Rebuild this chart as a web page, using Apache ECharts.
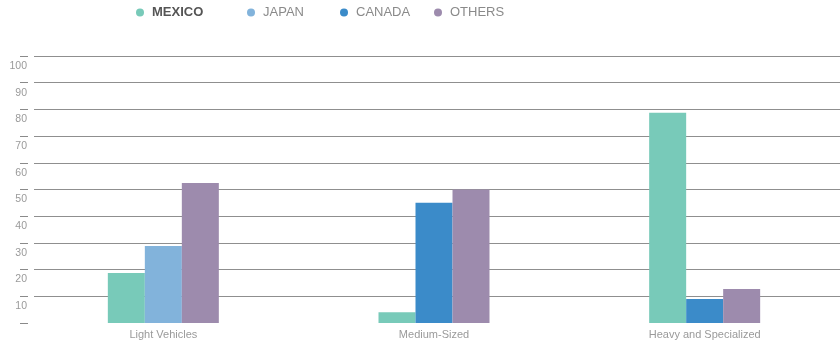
<!DOCTYPE html>
<html>
<head>
<meta charset="utf-8">
<script src="https://cdn.jsdelivr.net/npm/echarts@6/dist/echarts.min.js"></script>
<style>
  html, body { margin: 0; padding: 0; background: #fff; }
  #chart { width: 840px; height: 345px; }
</style>
</head>
<body>
<div id="chart"></div>
<script>
// Vehicle segments and the share held by each origin (%)
const categories = ['Light Vehicles', 'Medium-Sized', 'Heavy and Specialized'];
const mexico = [18.7, 4, 78.7];
const japan  = [28.8, null, null];
const canada = [null, 45, 9];
const others = [52.4, 50, 12.7];
const yTicks = [0, 10, 20, 30, 40, 50, 60, 70, 80, 90, 100];

const colors = {
  MEXICO: '#78cab9',
  JAPAN:  '#82b3db',
  CANADA: '#3b8bc9',
  OTHERS: '#9d8bad'
};

const FONT = '"Liberation Sans", Arial, sans-serif';
const GRID_TOP = 56;
const GRID_BOTTOM = 22;

function legendItem(name, left, bold) {
  return {
    data: [name],
    left: left,
    top: 6,
    padding: 0,
    icon: 'circle',
    itemWidth: 8,
    itemHeight: 8,
    selectedMode: false,
    textStyle: {
      fontFamily: FONT,
      fontSize: 13,
      color: bold ? '#555' : '#8a8a8a',
      fontWeight: bold ? 'bold' : 'normal',
      padding: [0, 0, 0, 3]
    }
  };
}

function barSeries(name, data, stack) {
  const s = {
    name: name,
    type: 'bar',
    xAxisIndex: 0,
    yAxisIndex: 0,
    data: data,
    barWidth: 37,
    barGap: '0%',
    itemStyle: { color: colors[name] },
    z: 3
  };
  if (stack) s.stack = stack;
  return s;
}

const option = {
  animation: false,
  backgroundColor: '#fff',
  legend: [
    legendItem('MEXICO', 136, true),
    legendItem('JAPAN', 247, false),
    legendItem('CANADA', 340, false),
    legendItem('OTHERS', 434, false)
  ],
  grid: [
    // plotting area for the bars, ticks and labels
    { left: 28, width: 815, top: GRID_TOP, bottom: GRID_BOTTOM },
    // horizontal rules start a little right of the tick marks
    { left: 34, right: 0, top: GRID_TOP, bottom: GRID_BOTTOM }
  ],
  xAxis: [
    {
      gridIndex: 0,
      type: 'category',
      data: categories,
      axisLine: { show: false },
      axisTick: { show: false },
      axisLabel: {
        fontFamily: FONT,
        fontSize: 11,
        color: '#9a9a9a',
        margin: 6
      }
    },
    {
      gridIndex: 1,
      type: 'value',
      show: false
    }
  ],
  yAxis: [
    {
      gridIndex: 0,
      type: 'value',
      min: yTicks[0],
      max: yTicks[yTicks.length - 1],
      interval: 10,
      axisLine: { show: false },
      axisTick: {
        show: true,
        inside: false,
        length: 8,
        lineStyle: { color: '#8a8a8a', width: 1 }
      },
      splitLine: { show: false },
      axisLabel: {
        fontFamily: FONT,
        fontSize: 10.5,
        color: '#9a9a9a',
        margin: 1,
        verticalAlign: 'top',
        lineHeight: 12,
        padding: [4, 0, 0, 0],
        formatter: v => (v === 0 ? '' : String(v))
      }
    },
    {
      gridIndex: 1,
      type: 'value',
      min: yTicks[0],
      max: yTicks[yTicks.length - 1],
      interval: 10,
      axisLine: { show: false },
      axisTick: { show: false },
      axisLabel: { show: false },
      splitLine: {
        show: true,
        showMinLine: false,
        lineStyle: { color: '#8f8f8f', width: 1 }
      }
    }
  ],
  series: [
    barSeries('MEXICO', mexico),
    barSeries('JAPAN', japan, 'middle'),
    barSeries('CANADA', canada, 'middle'),
    barSeries('OTHERS', others)
  ]
};

const chart = echarts.init(document.getElementById('chart'), null, { renderer: 'canvas' });
chart.setOption(option);
</script>
</body>
</html>
